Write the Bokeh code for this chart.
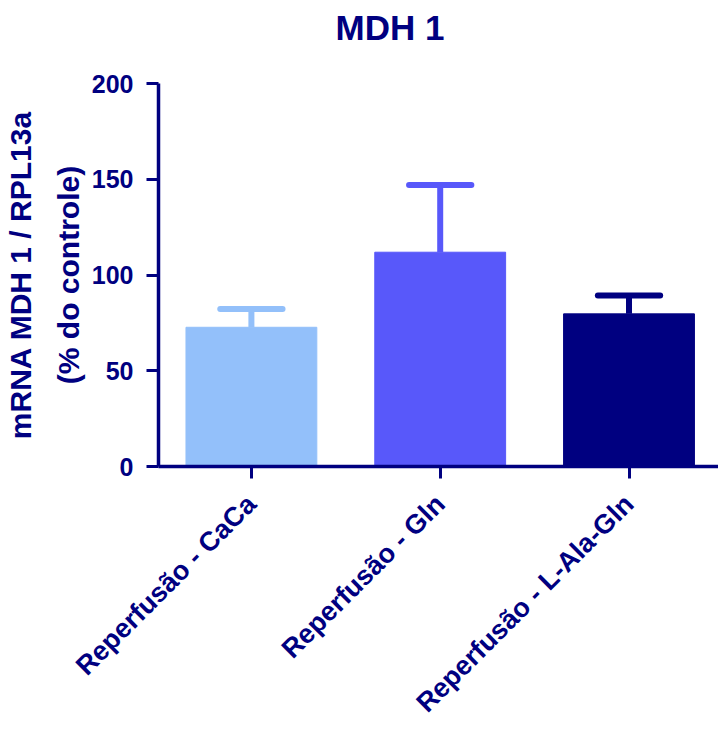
import math
from bokeh.plotting import figure
from bokeh.models import FixedTicker, Range1d, ColumnDataSource, Title
from bokeh.embed import file_html
from bokeh.resources import INLINE

# ---- data ----
categories = ["Reperfusão - CaCa", "Reperfusão - Gln", "Reperfusão - L-Ala-Gln"]
means = [72.7, 111.9, 79.7]
upper = [82.3, 147.0, 89.3]
colors = ["#93C0FA", "#5858FA", "#000080"]
y_ticks = [0, 50, 100, 150, 200]
title_text = "MDH 1"
y_label = "mRNA MDH 1 / RPL13a\n(% do controle)"

NAVY = "#000080"
FONT = "Liberation Sans"

xs = list(range(len(categories)))
bar_w = 0.693
cap_half = 0.165

src = ColumnDataSource(dict(
    x=xs, top=means, up=upper, color=colors,
    cl=[x - cap_half for x in xs], cr=[x + cap_half for x in xs],
))

p = figure(width=718, height=731, output_backend="svg", toolbar_location=None,
           x_range=Range1d(-0.492, 2.474), y_range=Range1d(0, 200),
           min_border_left=153, min_border_right=0, min_border_top=83,
           min_border_bottom=265, title=None)

p.vbar(x="x", top="top", bottom=0, width=bar_w, color="color", source=src)
p.segment(x0="x", y0="top", x1="x", y1="up", line_color="color", line_width=6, source=src)
p.segment(x0="cl", y0="up", x1="cr", y1="up", line_color="color", line_width=6,
          line_cap="round", source=src)

# spacer between title and frame, then the title itself
spacer = Title(text=" ", standoff=15, text_font_size="10px", text_color="white")
p.add_layout(spacer, "above")
t = Title(text=title_text, align="left", offset=177, standoff=13, vertical_align="top",
          text_font=FONT, text_font_size="35px", text_font_style="bold",
          text_color=NAVY)
p.add_layout(t, "above")

p.grid.visible = False
p.outline_line_color = None
p.background_fill_color = "white"
p.border_fill_color = "white"

for ax in (p.xaxis[0], p.yaxis[0]):
    ax.axis_line_color = NAVY
    ax.axis_line_width = 3.5
    ax.major_tick_line_color = NAVY
    ax.major_tick_line_width = 3
    ax.major_tick_in = 0
    ax.major_tick_out = 12
    ax.minor_tick_line_color = None
    ax.major_label_text_color = NAVY
    ax.major_label_text_font = FONT
    ax.major_label_text_font_style = "bold"

p.yaxis.ticker = FixedTicker(ticks=y_ticks)
p.yaxis.major_label_text_font_size = "25px"
p.yaxis.major_label_standoff = 13
p.yaxis.axis_label = y_label
p.yaxis.axis_label_text_font = FONT
p.yaxis.axis_label_text_font_size = "30px"
p.yaxis.axis_label_text_font_style = "bold"
p.yaxis.axis_label_text_color = NAVY
p.yaxis.axis_label_text_line_height = 1.45
p.yaxis.axis_label_standoff = 4

p.xaxis.ticker = FixedTicker(ticks=xs)
p.xaxis.major_label_overrides = {i: c for i, c in enumerate(categories)}
p.xaxis.major_label_orientation = math.pi / 4
p.xaxis.major_label_text_font_size = "27px"
p.xaxis.major_label_standoff = 21

open("out.html", "w").write(file_html(p, INLINE))
